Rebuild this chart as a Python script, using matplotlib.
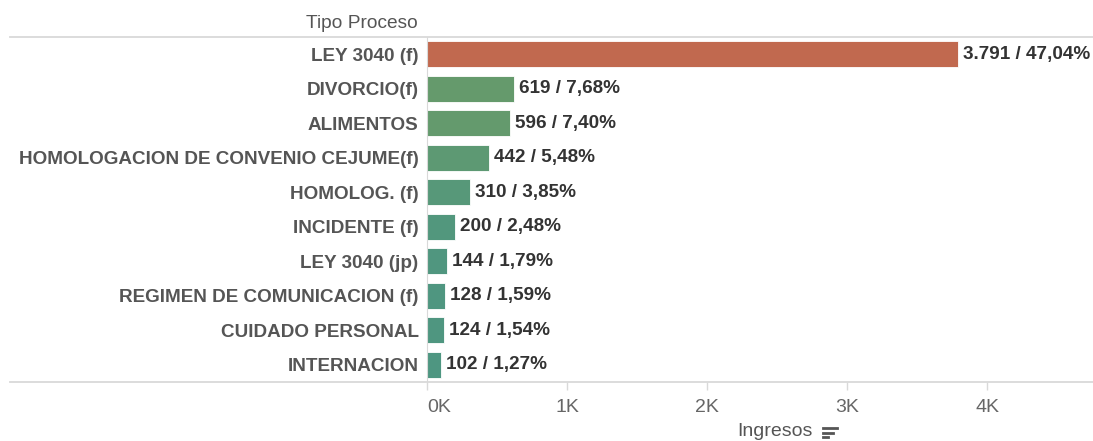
import matplotlib.pyplot as plt
from matplotlib.lines import Line2D
from matplotlib.colors import LinearSegmentedColormap, Normalize

plt.rcParams['font.family'] = ['Liberation Sans', 'DejaVu Sans']

categorias = ['LEY 3040 (f)', 'DIVORCIO(f)', 'ALIMENTOS',
              'HOMOLOGACION DE CONVENIO CEJUME(f)', 'HOMOLOG. (f)',
              'INCIDENTE (f)', 'LEY 3040 (jp)', 'REGIMEN DE COMUNICACION (f)',
              'CUIDADO PERSONAL', 'INTERNACION']
ingresos = [3791, 619, 596, 442, 310, 200, 144, 128, 124, 102]
porcentajes = ['47,04', '7,68', '7,40', '5,48', '3,85', '2,48', '1,79', '1,59', '1,54', '1,27']
ticks = [0, 1000, 2000, 3000, 4000]
tick_labels = ['0K', '1K', '2K', '3K', '4K']

W, H = 1093, 441
fig = plt.figure(figsize=(W / 100, H / 100), dpi=100)
ax = fig.add_axes([427 / W, 1 - 382 / H, 1 - 427 / W, 345 / H])

# colores: el mayor en naranja, el resto verde segun valor
cmap = LinearSegmentedColormap.from_list('verdes', ['#4e9681', '#659a6c'])
norm = Normalize(min(ingresos[1:]), max(ingresos[1:]))
colores = ['#c1694f'] + [cmap(norm(v)) for v in ingresos[1:]]

y = list(range(len(categorias)))
ax.barh(y, ingresos, height=0.74, color=colores, edgecolor='white', linewidth=0.6)

for i, (v, p) in enumerate(zip(ingresos, porcentajes)):
    txt = f'{v:,}'.replace(',', '.') + f' / {p}%'
    ax.text(v + 35, i, txt, va='center', ha='left', fontsize=13.6,
            fontweight='bold', color='#333333')

ax.set_ylim(len(categorias) - 0.5, -0.5)
ax.set_xlim(0, (W - 427) / 140 * 1000)
ax.set_yticks(y)
ax.set_yticklabels(categorias, fontsize=13.6, fontweight='bold', color='#555555')
ax.tick_params(axis='y', length=0, pad=6)

ax.set_xticks(ticks)
ax.set_xticklabels(tick_labels, fontsize=14, color='#666666')
ax.tick_params(axis='x', length=6, color='#d9d9d9', width=1, pad=6)
ax.get_xticklabels()[0].set_horizontalalignment('left')
ax.get_xticklabels()[0].set_x(25)

for s in ['top', 'right', 'bottom']:
    ax.spines[s].set_visible(False)
ax.spines['left'].set_color('#d9d9d9')

# lineas horizontales de encabezado y pie
for yy in [37, 382]:
    fig.add_artist(Line2D([10 / W, 1], [1 - yy / H, 1 - yy / H], color='#d9d9d9', lw=1.3))

fig.text(362 / W, 1 - 24 / H, 'Tipo Proceso', ha='center', va='center', fontsize=13.8, color='#555555')
fig.text(775 / W, 1 - 432 / H, 'Ingresos', ha='center', va='center', fontsize=14, color='#555555')

# icono de orden
for k, (x0, x1) in enumerate([(823, 837), (823, 833), (823, 828)]):
    yy = 1 - (428 + k * 4.5) / H
    fig.add_artist(Line2D([x0 / W, x1 / W], [yy, yy], color='#555555', lw=2))

fig.savefig('out.png', dpi=100)
